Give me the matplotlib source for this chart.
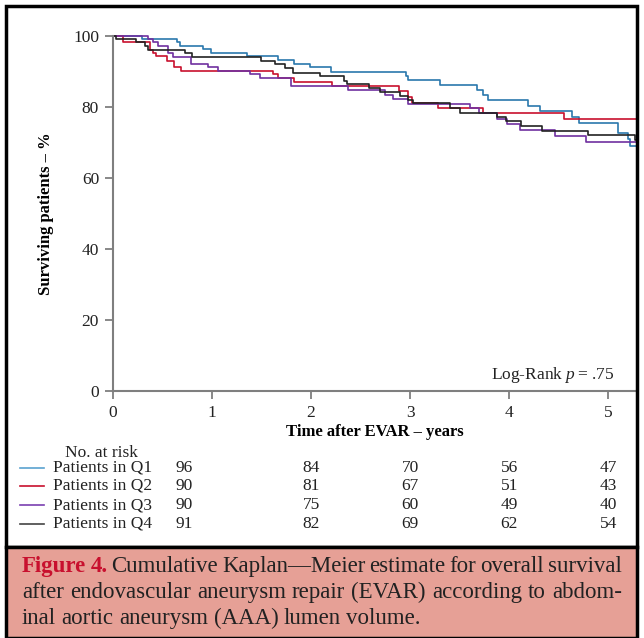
import matplotlib
matplotlib.use("Agg")
import matplotlib.pyplot as plt
from matplotlib.patches import Rectangle

plt.rcParams['font.family'] = ['Liberation Serif', 'DejaVu Serif']
plt.rcParams['mathtext.fontset'] = 'custom'
plt.rcParams['mathtext.rm'] = 'Liberation Serif'
plt.rcParams['mathtext.it'] = 'Liberation Serif:italic'

# Kaplan-Meier step data (years, % surviving)
q1_t = [0, 0.29, 0.65, 0.68, 0.91, 0.99, 1.35, 1.67, 1.83, 1.99, 2.20, 2.96, 2.98, 3.30,
        3.67, 3.74, 3.79, 4.19, 4.31, 4.63, 4.70, 5.10, 5.20, 5.22, 5.28]
q1_s = [100, 99.2, 98.3, 97.2, 96.2, 95.3, 94.4, 93.2, 92.2, 91.2, 89.9, 88.7, 87.6, 86.1,
        84.8, 83.4, 82.0, 80.3, 79.0, 77.3, 75.6, 72.6, 70.9, 69.0, 69.0]

q2_t = [0, 0.10, 0.37, 0.40, 0.43, 0.55, 0.62, 0.69, 1.62, 1.67, 1.83, 2.21, 2.89, 2.98,
        3.02, 3.28, 3.74, 4.55, 5.28]
q2_s = [100, 98.3, 96.1, 95.2, 94.3, 92.9, 91.2, 90.2, 89.2, 88.3, 87.0, 85.9, 84.6, 82.9,
        81.0, 79.6, 78.2, 76.6, 76.6]

q3_t = [0, 0.35, 0.40, 0.45, 0.56, 0.61, 0.79, 0.96, 1.06, 1.38, 1.48, 1.80, 2.37, 2.75,
        2.83, 2.98, 3.60, 3.69, 3.88, 3.98, 4.11, 4.46, 4.78, 5.28]
q3_s = [100, 99.2, 98.3, 97.1, 95.2, 94.0, 92.1, 91.2, 90.2, 89.2, 88.3, 85.9, 84.8, 83.4,
        82.2, 80.8, 79.6, 78.2, 76.5, 75.1, 73.5, 71.8, 70.0, 70.0]

q4_t = [0, 0.03, 0.23, 0.32, 0.35, 0.73, 0.80, 1.49, 1.64, 1.74, 1.82, 2.09, 2.33, 2.36,
        2.58, 2.70, 2.90, 2.98, 3.03, 3.40, 3.50, 3.88, 3.97, 4.12, 4.33, 4.80, 5.27, 5.28]
q4_s = [100, 99.2, 98.3, 97.1, 96.1, 95.2, 94.2, 93.0, 92.0, 90.9, 89.7, 88.7, 87.4, 86.5,
        85.4, 84.3, 83.1, 82.0, 81.0, 79.6, 78.4, 77.1, 76.1, 74.6, 73.2, 72.1, 70.7, 70.7]

groups = ["Patients in Q1", "Patients in Q2", "Patients in Q3", "Patients in Q4"]
colors = ["#2a78ad", "#c8102e", "#7030a0", "#222222"]
legend_colors = ["#5aa2cf", "#c8102e", "#7a3fb0", "#444444"]

# numbers at risk
risk_cols = [0.72, 2, 3, 4, 5]
at_risk = [[96, 84, 70, 56, 47],
           [90, 81, 67, 51, 43],
           [90, 75, 60, 49, 40],
           [91, 82, 69, 62, 54]]

W, H = 644, 638
fig = plt.figure(figsize=(W / 100, H / 100), dpi=100)

# outer frame + caption box
fig.patches.append(Rectangle((6 / W, 1 - 547 / H), 631 / W, 541 / H, transform=fig.transFigure,
                             fill=False, edgecolor='black', linewidth=2.5))
fig.patches.append(Rectangle((6 / W, 0), 631 / W, 91 / H, transform=fig.transFigure,
                             facecolor='#e6a096', edgecolor='black', linewidth=2.5))

ax = fig.add_axes([113 / W, 1 - 391 / H, 523 / W, 355 / H])
for t, s, c in zip([q1_t, q2_t, q3_t, q4_t], [q1_s, q2_s, q3_s, q4_s], colors):
    ax.step(t, s, where='post', color=c, lw=1.2, clip_on=False)

ax.set_xlim(0, 5.28)
ax.set_ylim(0, 100)
ax.set_xticks(range(6))
ax.set_yticks(range(0, 101, 20))
for sp in ['top', 'right']:
    ax.spines[sp].set_visible(False)
for sp in ['left', 'bottom']:
    ax.spines[sp].set_color('#7f7f7f')
    ax.spines[sp].set_linewidth(1.5)
ax.tick_params(colors='#7f7f7f', length=6, width=1.3, labelsize=12.5, labelcolor='#222222', pad=4)
ax.set_ylabel("Surviving patients \u2013 %", fontsize=12, fontweight='bold', labelpad=14)
ax.set_xlabel("Time after EVAR \u2013 years", fontsize=12, fontweight='bold', labelpad=2)
ax.text(0.958, 0.045, "Log-Rank $p$\u2009=\u2009.75", transform=ax.transAxes, ha='right',
        va='center', fontsize=12.5, color='#222222')

# numbers-at-risk table
def fy(py):
    return 1 - py / H

fig.text(65 / W, fy(453), "No. at risk", fontsize=12.5, va='center', color='#222222')
row_y = [468, 486, 505, 524]
for g, lc, vals, py in zip(groups, legend_colors, at_risk, row_y):
    fig.add_artist(plt.Line2D([20 / W, 44 / W], [fy(py), fy(py)], color=lc, lw=1.2,
                              transform=fig.transFigure))
    fig.text(53 / W, fy(py), g, fontsize=12.5, va='center', color='#222222')
    for xv, v in zip(risk_cols, vals):
        xp = ax.transData.transform((xv, 0))[0]
        fig.text(xp / W, fy(py), str(v), fontsize=12.5, va='center', ha='center', color='#222222')

# justified caption
cap_lines = [
    [("Figure", True), ("4.", True), ("Cumulative", False), ("Kaplan\u2014Meier", False),
     ("estimate", False), ("for", False), ("overall", False), ("survival", False)],
    [(w, False) for w in "after endovascular aneurysm repair (EVAR) according to abdom-".split()],
    [(w, False) for w in "inal aortic aneurysm (AAA) lumen volume.".split()],
]
cap_base = [572, 598, 624]
x0, x1 = 22, 622
renderer = fig.canvas.get_renderer()
for i, (line, py) in enumerate(zip(cap_lines, cap_base)):
    txts = []
    for w, red in line:
        txts.append(fig.text(0, fy(py), w, fontsize=16.5, va='baseline',
                             color='#c8102e' if red else '#222222',
                             fontweight='bold' if red else 'normal'))
    widths = [t.get_window_extent(renderer).width for t in txts]
    if i < len(cap_lines) - 1:
        gap = (x1 - x0 - sum(widths)) / (len(txts) - 1)
    else:
        gap = 5.5
    x = x0
    for t, w in zip(txts, widths):
        t.set_x(x / W)
        x += w + gap

fig.savefig("out.png", dpi=100)
